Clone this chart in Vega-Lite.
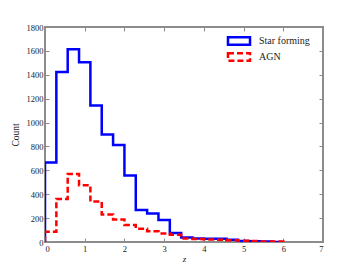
{
  "$schema": "https://vega.github.io/schema/vega-lite/v6.json",
  "width": 278,
  "height": 215,
  "autosize": {"type": "none"},
  "padding": {"left": 45, "top": 27, "right": 37, "bottom": 28},
  "background": "white",
  "config": {
    "view": {"stroke": "#8c8c8c", "strokeWidth": 2},
    "font": "Liberation Serif",
    "axis": {"domain": false, "grid": false, "tickColor": "#8c8c8c", "tickSize": -4, "tickWidth": 1, "labelFont": "Liberation Serif", "labelFontSize": 8.5, "labelColor": "#222", "titleFont": "Liberation Serif", "titleFontWeight": "normal", "titleColor": "#222"}
  },
  "data": {"values": [
    {"series": "Star forming", "x": 0, "count": 0, "ord": 0},
    {"series": "Star forming", "x": 0, "count": 665, "ord": 1},
    {"series": "Star forming", "x": 0.2857, "count": 1424, "ord": 2},
    {"series": "Star forming", "x": 0.5714, "count": 1613, "ord": 3},
    {"series": "Star forming", "x": 0.8571, "count": 1505, "ord": 4},
    {"series": "Star forming", "x": 1.1429, "count": 1143, "ord": 5},
    {"series": "Star forming", "x": 1.4286, "count": 901, "ord": 6},
    {"series": "Star forming", "x": 1.7143, "count": 812, "ord": 7},
    {"series": "Star forming", "x": 2.0, "count": 556, "ord": 8},
    {"series": "Star forming", "x": 2.2857, "count": 267, "ord": 9},
    {"series": "Star forming", "x": 2.5714, "count": 239, "ord": 10},
    {"series": "Star forming", "x": 2.8571, "count": 184, "ord": 11},
    {"series": "Star forming", "x": 3.1429, "count": 75, "ord": 12},
    {"series": "Star forming", "x": 3.4286, "count": 38, "ord": 13},
    {"series": "Star forming", "x": 3.7143, "count": 30, "ord": 14},
    {"series": "Star forming", "x": 4.0, "count": 28, "ord": 15},
    {"series": "Star forming", "x": 4.2857, "count": 27, "ord": 16},
    {"series": "Star forming", "x": 4.5714, "count": 18, "ord": 17},
    {"series": "Star forming", "x": 4.8571, "count": 8, "ord": 18},
    {"series": "Star forming", "x": 5.1429, "count": 6, "ord": 19},
    {"series": "Star forming", "x": 5.4286, "count": 5, "ord": 20},
    {"series": "Star forming", "x": 5.7143, "count": 0, "ord": 21},
    {"series": "Star forming", "x": 6.0, "count": 0, "ord": 22},
    {"series": "AGN", "x": 0, "count": 0, "ord": 0},
    {"series": "AGN", "x": 0, "count": 85, "ord": 1},
    {"series": "AGN", "x": 0.2857, "count": 360, "ord": 2},
    {"series": "AGN", "x": 0.5714, "count": 570, "ord": 3},
    {"series": "AGN", "x": 0.8571, "count": 476, "ord": 4},
    {"series": "AGN", "x": 1.1429, "count": 339, "ord": 5},
    {"series": "AGN", "x": 1.4286, "count": 230, "ord": 6},
    {"series": "AGN", "x": 1.7143, "count": 188, "ord": 7},
    {"series": "AGN", "x": 2.0, "count": 143, "ord": 8},
    {"series": "AGN", "x": 2.2857, "count": 111, "ord": 9},
    {"series": "AGN", "x": 2.5714, "count": 89, "ord": 10},
    {"series": "AGN", "x": 2.8571, "count": 72, "ord": 11},
    {"series": "AGN", "x": 3.1429, "count": 60, "ord": 12},
    {"series": "AGN", "x": 3.4286, "count": 30, "ord": 13},
    {"series": "AGN", "x": 3.7143, "count": 25, "ord": 14},
    {"series": "AGN", "x": 4.0, "count": 20, "ord": 15},
    {"series": "AGN", "x": 4.2857, "count": 18, "ord": 16},
    {"series": "AGN", "x": 4.5714, "count": 15, "ord": 17},
    {"series": "AGN", "x": 4.8571, "count": 10, "ord": 18},
    {"series": "AGN", "x": 5.1429, "count": 8, "ord": 19},
    {"series": "AGN", "x": 5.4286, "count": 5, "ord": 20},
    {"series": "AGN", "x": 5.7143, "count": 5, "ord": 21},
    {"series": "AGN", "x": 6.0, "count": 0, "ord": 22}
  ]},
  "layer": [
    {
      "mark": {"type": "line", "interpolate": "step-after", "strokeWidth": 2.5, "clip": true},
      "encoding": {
        "x": {"field": "x", "type": "quantitative", "scale": {"domain": [0, 7], "nice": false, "zero": false}, "axis": {"title": "z", "titleFontStyle": "italic", "titleFontSize": 9, "values": [0,1,2,3,4,5,6,7], "labelPadding": 6, "titlePadding": 2}},
        "y": {"field": "count", "type": "quantitative", "scale": {"domain": [0, 1800], "nice": false}, "axis": {"title": "Count", "titleFontSize": 9.5, "format": "d", "values": [0,200,400,600,800,1000,1200,1400,1600,1800], "labelPadding": 6, "titlePadding": 6}},
        "order": {"field": "ord", "type": "quantitative"},
        "color": {"field": "series", "type": "nominal", "scale": {"domain": ["Star forming", "AGN"], "range": ["#0000ff", "#ff0000"]},
          "legend": {"title": null, "orient": "none", "legendX": 189, "legendY": 9, "symbolType": "M-3,-1H3V1H-3Z", "symbolSize": 54, "symbolStrokeWidth": 2.5, "symbolFillColor": "transparent", "labelFontSize": 10, "labelFont": "Liberation Serif", "labelColor": "#222", "rowPadding": -2, "labelOffset": 15}},
        "strokeDash": {"field": "series", "type": "nominal", "scale": {"domain": ["Star forming", "AGN"], "range": [[1, 0], [6, 3]]}, "legend": null}
      }
    },
    {
      "mark": {"type": "line", "opacity": 0},
      "encoding": {
        "x": {"field": "x", "type": "quantitative", "axis": {"orient": "top", "labels": false, "title": null, "values": [0,1,2,3,4,5,6,7]}},
        "y": {"field": "count", "type": "quantitative", "axis": {"orient": "right", "labels": false, "title": null, "values": [0,200,400,600,800,1000,1200,1400,1600,1800]}}
      }
    }
  ],
  "resolve": {"axis": {"x": "independent", "y": "independent"}}
}
